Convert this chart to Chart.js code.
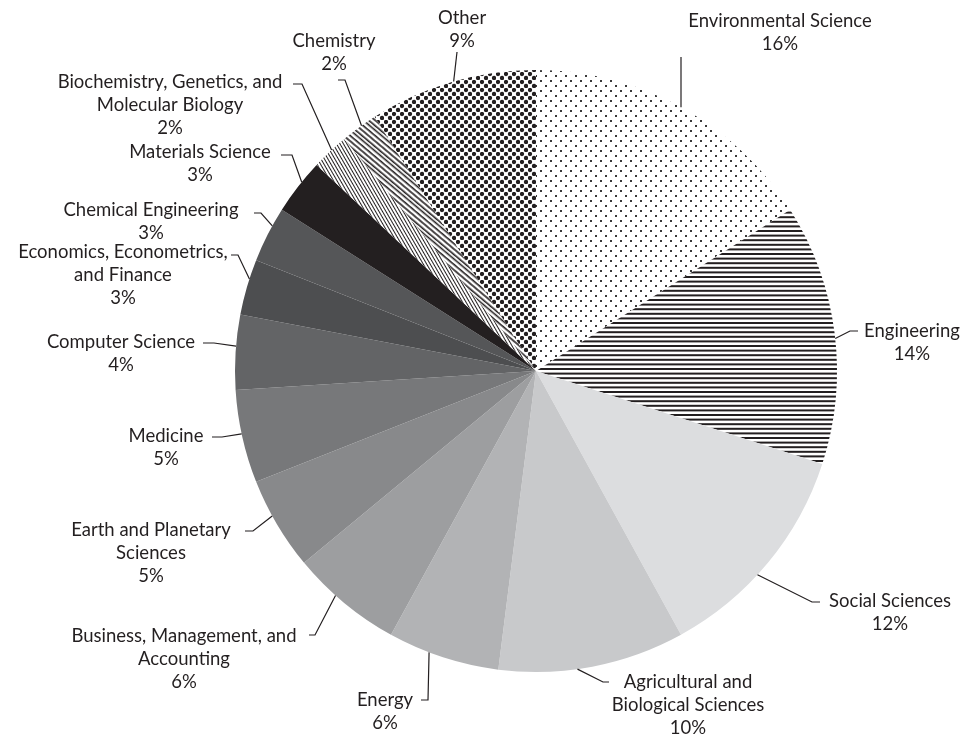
<!DOCTYPE html>
<html>
<head>
<meta charset="utf-8">
<title>Publications by subject area</title>
<script src="https://cdn.jsdelivr.net/npm/chart.js@4.4.1/dist/chart.umd.min.js"></script>
<style>
  html, body { margin: 0; padding: 0; background: #fff; }
  #wrap { width: 974px; height: 746px; }
</style>
</head>
<body>
<div id="wrap"><canvas id="pie" width="974" height="746"></canvas></div>
<script>
const categories = [
  "Environmental Science",
  "Engineering",
  "Social Sciences",
  "Agricultural and\nBiological Sciences",
  "Energy",
  "Business, Management, and\nAccounting",
  "Earth and Planetary\nSciences",
  "Medicine",
  "Computer Science",
  "Economics, Econometrics,\nand Finance",
  "Chemical Engineering",
  "Materials Science",
  "Biochemistry, Genetics, and\nMolecular Biology",
  "Chemistry",
  "Other",
];
const shares = [16, 14, 12, 10, 6, 6, 5, 5, 4, 3, 3, 3, 2, 2, 9];

const ink = "#231f20";

// little helper for tiled fills
function makePattern(w, h, draw) {
  const c = document.createElement("canvas");
  c.width = w;
  c.height = h;
  const g = c.getContext("2d");
  g.fillStyle = "#fff";
  g.fillRect(0, 0, w, h);
  draw(g, w, h);
  return g.createPattern(c, "repeat");
}

function stripes(period, thick, angleDeg) {
  const p = makePattern(period * 4, 4, (g, w) => {
    g.fillStyle = ink;
    for (let i = 0; i < 4; i++) g.fillRect(i * period, 0, thick, 4);
  });
  p.setTransform(new DOMMatrix().rotate(angleDeg));
  return p;
}

const sparseDots = makePattern(10, 10, (g) => {
  g.fillStyle = "#3a3a3a";
  g.fillRect(0, 0, 2, 2);
  g.fillRect(5, 5, 2, 2);
});

const hLines = makePattern(4, 23, (g) => {
  g.fillStyle = ink;
  for (let i = 0; i < 5; i++) g.fillRect(0, i * 4.6, 4, 2);
});

const denseDots = makePattern(8, 8, (g) => {
  g.fillStyle = ink;
  [[2, 2], [6, 6]].forEach(([x, y]) => {
    g.beginPath();
    g.arc(x, y, 2.15, 0, Math.PI * 2);
    g.fill();
  });
});

const fills = [
  sparseDots,
  hLines,
  "#dcdddf",
  "#c8c9cb",
  "#b2b3b5",
  "#9d9ea0",
  "#88898b",
  "#77787a",
  "#636466",
  "#4d4e50",
  "#555658",
  "#231f20",
  stripes(3, 1, -30),
  stripes(4.2, 1.6, -50),
  denseDots,
];

// where each callout sits: f = spot along the slice edge,
// path = leader bends, tx/ty = centre of the first text line
const labelLayout = [
  { f: 0.5,  path: [[681, 57]],               tx: 780, ty: 21 },
  { f: 0.52, path: [[850, 331], [858, 331]],  tx: 912, ty: 331 },
  { f: 0.57, path: [[812, 602], [820, 602]],  tx: 890, ty: 601 },
  { f: 0.58, path: [[603, 682], [609, 682]],  tx: 688, ty: 682 },
  { f: 0.63, path: [[428, 700], [421, 700]],  tx: 385, ty: 700 },
  { f: 0.6,  path: [[315, 635], [309, 635]],  tx: 184, ty: 636 },
  { f: 0.6,  path: [[253, 531], [245, 531]],  tx: 151, ty: 530 },
  { f: 0.53, path: [[222, 437], [212, 437]],  tx: 166, ty: 436 },
  { f: 0.58, path: [[214, 343], [203, 343]],  tx: 121, ty: 342 },
  { f: 0.65, path: [[238, 255], [231, 255]],  tx: 123, ty: 252 },
  { f: 0.67, path: [[261, 213], [254, 213]],  tx: 151, ty: 210 },
  { f: 0.6,  path: [[292, 155], [281, 155]],  tx: 200, ty: 152 },
  { f: 0.56, path: [[302, 84], [293, 84]],    tx: 170, ty: 82 },
  { f: 0.58, path: [[345, 80], [338, 80]],    tx: 334, ty: 41 },
  { f: 0.51, path: [[457, 52]],               tx: 462, ty: 18 },
];

const calloutPlugin = {
  id: "callouts",
  afterDatasetsDraw(chart) {
    const ctx = chart.ctx;
    const arcs = chart.getDatasetMeta(0).data;
    ctx.save();
    ctx.strokeStyle = ink;
    ctx.lineWidth = 1.2;
    ctx.fillStyle = ink;
    ctx.font = "18.5px Lato";
    ctx.textAlign = "center";
    ctx.textBaseline = "middle";
    arcs.forEach((arc, i) => {
      const p = arc.getProps(["x", "y", "startAngle", "endAngle", "outerRadius"], true);
      const lay = labelLayout[i];
      const a = p.startAngle + (p.endAngle - p.startAngle) * lay.f;
      ctx.beginPath();
      ctx.moveTo(p.x + p.outerRadius * Math.cos(a), p.y + p.outerRadius * Math.sin(a));
      lay.path.forEach(([x, y]) => ctx.lineTo(x, y));
      ctx.stroke();

      const lines = categories[i].split("\n").concat(shares[i] + "%");
      lines.forEach((t, k) => ctx.fillText(t, lay.tx, lay.ty + k * 23));
    });
    ctx.restore();
  },
};

new Chart(document.getElementById("pie"), {
  type: "pie",
  data: {
    labels: categories,
    datasets: [
      {
        data: shares,
        backgroundColor: fills,
        borderWidth: 0,
      },
    ],
  },
  options: {
    responsive: false,
    animation: false,
    events: [],
    layout: {
      padding: { left: 235, right: 137, top: 70, bottom: 74 },
    },
    plugins: {
      legend: { display: false },
      tooltip: { enabled: false },
    },
  },
  plugins: [calloutPlugin],
});
</script>
</body>
</html>
